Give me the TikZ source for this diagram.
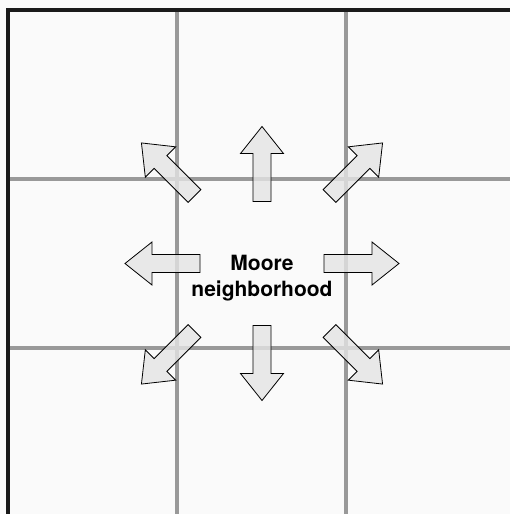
\documentclass[tikz,border=0pt]{standalone}
\usepackage{fontspec}
\newfontfamily\heros{TeX Gyre Heros}
\usetikzlibrary{calc}
\definecolor{bgc}{HTML}{FAFAFA}
\definecolor{gridc}{HTML}{999999}
\definecolor{framec}{HTML}{1A1A1A}
\definecolor{arrc}{HTML}{E4E4E4}
\tikzset{
  gridline/.style={draw=gridc, line width=4pt},
  frameline/.style={draw=framec, line width=4pt},
  arrowshape/.style={draw=black, line width=0.8pt, fill=arrc, fill opacity=0.8, line join=miter},
  mooarrow/.pic={\path[arrowshape] (0,-9) -- (48,-9) -- (48,-21.5) -- (75,0) -- (48,21.5) -- (48,9) -- (0,9) -- cycle;},
  label/.style={font=\heros\bfseries\fontsize{21}{26.5}\selectfont, align=center, inner sep=0pt}
}
\begin{document}
\begin{tikzpicture}[x=1pt,y=-1pt]
\useasboundingbox (0,0) rectangle (510,514);
\fill[bgc] (0,0) rectangle (510,514);
% grid
\coordinate (v1t) at (177,10); \coordinate (v1b) at (177,514);
\coordinate (v2t) at (346,10); \coordinate (v2b) at (346,514);
\coordinate (h1l) at (8,179); \coordinate (h1r) at (510,179);
\coordinate (h2l) at (8,348); \coordinate (h2r) at (510,348);
\draw[gridline] (v1t) -- (v1b);
\draw[gridline] (v2t) -- (v2b);
\draw[gridline] (h1l) -- (h1r);
\draw[gridline] (h2l) -- (h2r);
% frame
\coordinate (fb) at (8,514); \coordinate (fc) at (8,10); \coordinate (fr) at (510,10);
\draw[frameline] (fb) -- (fc) -- (fr);
% arrows
\coordinate (c) at (262,263.5);
\foreach \a/\r in {0/62,90/62,180/62,270/62,45/95.5,135/95.5,225/95.5,315/95.5}
  \pic[rotate=-\a] at ($(c)+(\a:\r)$) {mooarrow};
\node[label] (moore) at (262,278) {Moore\\neighborhood};
\end{tikzpicture}
\end{document}
